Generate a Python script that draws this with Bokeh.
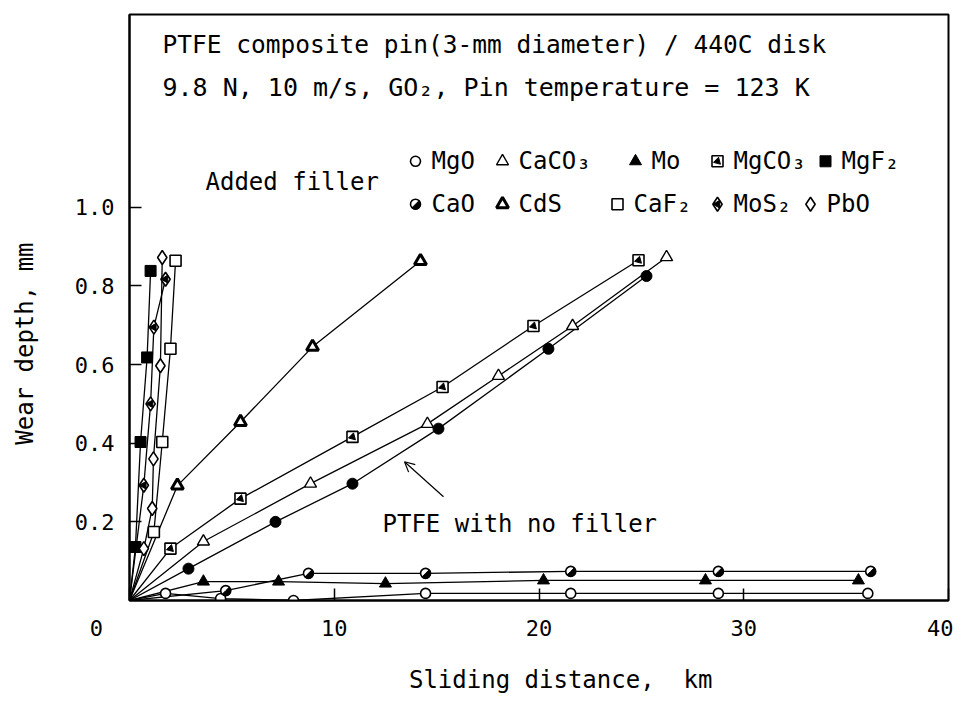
from math import pi
from bokeh.plotting import figure
from bokeh.models import Range1d, FixedTicker, Label, Arrow, OpenHead
from bokeh.embed import file_html
from bokeh.resources import INLINE

# ---------------- data (sliding distance km, wear depth mm) ----------------
nofill_x = [0, 2.88, 7.13, 10.89, 15.09, 20.46, 25.25]
nofill_y = [0, 0.081, 0.200, 0.297, 0.437, 0.640, 0.825]
caco3_x = [0, 3.61, 8.84, 14.55, 18.02, 21.64, 26.23]
caco3_y = [0, 0.150, 0.297, 0.449, 0.571, 0.698, 0.873]
mgco3_x = [0, 2.0, 5.42, 10.89, 15.29, 19.73, 24.86]
mgco3_y = [0, 0.132, 0.259, 0.416, 0.543, 0.698, 0.865]
cds_x = [0, 2.34, 5.42, 8.94, 14.21]
cds_y = [0, 0.292, 0.454, 0.645, 0.863]
mgf2_x = [0, 0.29, 0.54, 0.86, 1.03]
mgf2_y = [0, 0.136, 0.403, 0.618, 0.838]
caf2_x = [0, 1.19, 1.60, 2.0, 2.25]
caf2_y = [0, 0.174, 0.403, 0.640, 0.864]
mos2_x = [0, 0.70, 1.03, 1.19, 1.76]
mos2_y = [0, 0.293, 0.500, 0.695, 0.817]
pbo_x = [0, 0.70, 1.11, 1.17, 1.51, 1.60]
pbo_y = [0, 0.132, 0.234, 0.36, 0.597, 0.872]
mgo_x = [0, 1.76, 4.45, 8.01, 14.46, 21.55, 28.76, 36.06]
mgo_y = [0, 0.018, 0.005, 0.0, 0.018, 0.018, 0.018, 0.018]
cao_x = [0, 4.7, 8.74, 14.46, 21.55, 28.76, 36.2]
cao_y = [0, 0.025, 0.069, 0.069, 0.074, 0.074, 0.074]
mo_x = [0, 3.61, 7.28, 12.5, 20.22, 28.13, 35.6]
mo_y = [0, 0.048, 0.048, 0.043, 0.051, 0.051, 0.051]

x_ticks = [0, 10, 20, 30, 40]
x_tick_labels = ["0", "10", "20", "30", "40"]
y_ticks = [0.2, 0.4, 0.6, 0.8, 1.0]
y_tick_labels = ["0.2", "0.4", "0.6", "0.8", "1.0"]

FONT = "DejaVu Sans Mono"
NB = "\u00a0"

p = figure(width=953, height=696, output_backend="svg", toolbar_location=None,
           x_range=Range1d(0, 40), y_range=Range1d(0, 1.49),
           min_border_left=129, min_border_right=5, min_border_top=14, min_border_bottom=94)
p.background_fill_color = "white"
p.border_fill_color = "white"
p.outline_line_color = "black"
p.outline_line_width = 2
p.grid.visible = False

for ax in (p.xaxis[0], p.yaxis[0]):
    ax.axis_line_width = 2
    ax.major_tick_in = 12
    ax.major_tick_out = 0
    ax.minor_tick_line_color = None
    ax.major_tick_line_width = 1.5
    ax.major_label_text_font = FONT
    ax.major_label_text_font_size = "22px"
    ax.major_label_text_color = "black"
    ax.axis_label_text_font = FONT
    ax.axis_label_text_font_size = "24px"
    ax.axis_label_text_font_style = "normal"
    ax.axis_label_text_color = "black"

p.xaxis.ticker = FixedTicker(ticks=x_ticks)
xl = dict(zip(x_ticks, x_tick_labels))
xl[0] = xl[0] + NB * 5          # origin label sits left of the origin
p.xaxis.major_label_overrides = xl
p.xaxis.major_label_standoff = 15
p.xaxis.axis_label = NB * 3 + "Sliding distance," + NB + NB + "km"
p.xaxis.axis_label_standoff = 22

p.yaxis.ticker = FixedTicker(ticks=y_ticks)
p.yaxis.major_label_overrides = dict(zip(y_ticks, y_tick_labels))
p.yaxis.major_label_standoff = 15
p.yaxis.axis_label = "Wear depth, mm" + NB * 5
p.yaxis.axis_label_standoff = 33


def mark(xs, ys, kind, size=11):
    if kind == "circle_open":
        p.scatter(xs, ys, marker="circle", size=size - 1, fill_color="white", line_color="black", line_width=1.6)
    elif kind == "circle_filled":
        p.scatter(xs, ys, marker="circle", size=size, fill_color="black", line_color="black")
    elif kind == "circle_half":
        p.scatter(xs, ys, marker="circle", size=size - 1, fill_color="white", line_color="black", line_width=1.6)
        p.wedge(xs, ys, radius=size / 2 - 0.5, radius_units="screen", start_angle=-3 * pi / 4,
                end_angle=pi / 4, fill_color="black", line_color="black")
    elif kind == "tri_open":
        p.scatter(xs, ys, marker="triangle", size=size + 1, fill_color="white", line_color="black", line_width=1.4)
    elif kind == "tri_bold":
        p.scatter(xs, ys, marker="triangle", size=size + 1, fill_color="white", line_color="black", line_width=3)
    elif kind == "tri_filled":
        p.scatter(xs, ys, marker="triangle", size=size + 1, fill_color="black", line_color="black")
    elif kind == "square_open":
        p.scatter(xs, ys, marker="square", size=size, fill_color="white", line_color="black", line_width=1.6)
    elif kind == "square_filled":
        p.scatter(xs, ys, marker="square", size=size, fill_color="black", line_color="black")
    elif kind == "square_half":
        p.scatter(xs, ys, marker="square", size=size, fill_color="white", line_color="black", line_width=1.6)
        p.scatter(xs, ys, marker="triangle", size=size * 0.65, angle=-3 * pi / 4,
                  fill_color="black", line_color="black")
    elif kind == "diamond_open":
        p.scatter(xs, ys, marker="diamond", size=size + 3, fill_color="white", line_color="black", line_width=1.6)
    elif kind == "diamond_half":
        p.scatter(xs, ys, marker="diamond", size=size + 3, fill_color="white", line_color="black", line_width=1.6)
        p.scatter(xs, ys, marker="triangle", size=size * 0.7, angle=pi / 2,
                  fill_color="black", line_color="black")


series = [
    (mgo_x, mgo_y, "circle_open"),
    (cao_x, cao_y, "circle_half"),
    (mo_x, mo_y, "tri_filled"),
    (caco3_x, caco3_y, "tri_open"),
    (cds_x, cds_y, "tri_bold"),
    (mgco3_x, mgco3_y, "square_half"),
    (nofill_x, nofill_y, "circle_filled"),
    (caf2_x, caf2_y, "square_open"),
    (mgf2_x, mgf2_y, "square_filled"),
    (mos2_x, mos2_y, "diamond_half"),
    (pbo_x, pbo_y, "diamond_open"),
]
for xs, ys, kind in series:
    p.line(xs, ys, line_color="black", line_width=1.3)
for xs, ys, kind in series:
    mark(xs[1:], ys[1:], kind)


# ---- annotation helpers: picture pixel -> data coordinates ----
def X(px):
    return (px - 129) / 20.475


def Y(py):
    return (602 - py) / 394.0


def label(text, px, py, size="24px", align="left", angle=0.0):
    p.add_layout(Label(x=X(px), y=Y(py), text=text, text_font=FONT, text_font_size=size,
                       text_align=align, text_baseline="middle", angle=angle, text_color="black"))


label("PTFE composite pin(3-mm diameter) / 440C disk", 162, 45, size="24.5px")
label("9.8 N, 10 m/s, GO\u2082, Pin temperature = 123 K", 162, 88, size="25px")
label("Added filler", 205, 183)

legend_rows = [
    [("circle_open", "MgO", 415), ("tri_open", "CaCO\u2083", 502), ("tri_filled", "Mo", 635),
     ("square_half", "MgCO\u2083", 717), ("square_filled", "MgF\u2082", 825)],
    [("circle_half", "CaO", 415), ("tri_bold", "CdS", 502), ("square_open", "CaF\u2082", 617),
     ("diamond_half", "MoS\u2082", 717), ("diamond_open", "PbO", 810)],
]
for row, py in zip(legend_rows, [162, 205]):
    for kind, name, px in row:
        mark([X(px)], [Y(py)], kind)
        label(name, px + 16, py)

label("PTFE with no filler", 382, 525)
p.add_layout(Arrow(end=OpenHead(size=10, line_width=1.2), x_start=X(443), y_start=Y(498),
                   x_end=X(404), y_end=Y(463), line_width=1.2, line_color="black"))

open("out.html", "w").write(file_html(p, INLINE))
